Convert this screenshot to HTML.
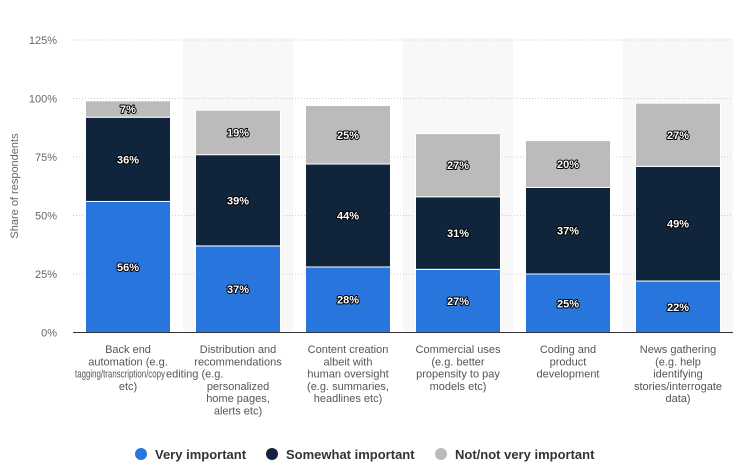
<!DOCTYPE html>
<html><head><meta charset="utf-8"><style>
body{margin:0;background:#fff;}
svg{display:block;font-family:"Liberation Sans",sans-serif;}
</style></head><body>
<svg id="chart" width="740" height="471"></svg>
<script>
const categories=["Back end automation","Distribution and recommendations","Content creation","Commercial uses","Coding and product development","News gathering"];
const veryImportant=[56,37,28,27,25,22];
const somewhatImportant=[36,39,44,31,37,49];
const notImportant=[7,19,25,27,20,27];
const yTicks=[0,25,50,75,100,125];
const labelLines=[
 ["Back end","automation (e.g."],
 ["Distribution and","recommendations","","personalized","home pages,","alerts etc)"],
 ["Content creation","albeit with","human oversight","(e.g. summaries,","headlines etc)"],
 ["Commercial uses","(e.g. better","propensity to pay","models etc)"],
 ["Coding and","product","development"],
 ["News gathering","(e.g. help","identifying","stories/interrogate","data)"]
];
const NS="http://www.w3.org/2000/svg";
const svg=document.getElementById('chart');
const x0=73,x1=733,band=(x1-x0)/categories.length,bw=85;
const y=v=>332.5-v*(292.5/125);
const cx=i=>x0+band*i+band/2;
function mk(tag,attrs,parent){const e=document.createElementNS(NS,tag);for(const k in attrs)e.setAttribute(k,attrs[k]);(parent||svg).appendChild(e);return e;}
categories.forEach((c,i)=>{if(i%2===1){const r=mk('rect',{x:x0+band*i,y:38,width:band,height:294.5,fill:'#f8f8f8'});

}});
yTicks.forEach(t=>{
 if(t>0){const l=mk('line',{x1:x0,x2:x1,y1:y(t),y2:y(t),stroke:'#ccc','stroke-dasharray':'1,2'});
 
 }
 const tx=mk('text',{x:57,y:y(t)+4,'text-anchor':'end','font-size':'11',fill:'#666'});
 tx.textContent=t+'%';
 
 
});
const yt=mk('text',{x:0,y:0,transform:'translate(18,186) rotate(-90)','text-anchor':'middle','font-size':'11',fill:'#666'});
yt.textContent='Share of respondents';


const series=[[veryImportant,'#2876dd'],[somewhatImportant,'#10243c'],[notImportant,'#bbbbbb']];
categories.forEach((c,i)=>{
 let base=0;
 series.forEach(([vals,col],s)=>{
  const v=vals[i];
  const r=mk('rect',{x:cx(i)-bw/2,y:y(base+v),width:bw,height:y(base)-y(base+v),fill:col,stroke:'#fff','stroke-width':1});
  
  
  const t=mk('text',{x:cx(i),y:(y(base)+y(base+v))/2+4,'text-anchor':'middle','font-size':'11','font-weight':'bold',fill:'#fff',stroke:'#000','stroke-width':2,'paint-order':'stroke','stroke-linejoin':'round'});
  t.textContent=v+'%';
  
  
  base+=v;
 });
});
const ax=mk('line',{x1:x0,x2:x1,y1:332.5,y2:332.5,stroke:'#333','stroke-width':1});


labelLines.forEach((lines,i)=>{
 lines.forEach((ln,j)=>{if(!ln)return;
  const t=mk('text',{x:cx(i),y:353+j*12.3,'text-anchor':'middle','font-size':'11',fill:'#555'});
  t.textContent=ln;
  
  
 });
});
const extra1=mk('text',{x:75,y:353+2*12.3,'font-size':'11',fill:'#555',textLength:90,lengthAdjust:'spacingAndGlyphs'});
extra1.textContent='tagging/transcription/copy';


const extra2=mk('text',{x:166,y:353+2*12.3,'font-size':'11',fill:'#555'});
extra2.textContent='editing (e.g.';


const extra3=mk('text',{x:cx(0),y:353+3*12.3,'text-anchor':'middle','font-size':'11',fill:'#555'});
extra3.textContent='etc)';


const legend=[['Very important','#2876dd',141],['Somewhat important','#10243c',272],['Not/not very important','#bbbbbb',441]];
legend.forEach(([name,col,lx])=>{
 const g=mk('g',{});
 
 
 mk('circle',{cx:lx,cy:454,r:6,fill:col},g);
 const t=mk('text',{x:lx+14,y:459,'font-size':'13','font-weight':'bold',fill:'#333'},g);
 t.textContent=name;
});
</script>
</body></html>
